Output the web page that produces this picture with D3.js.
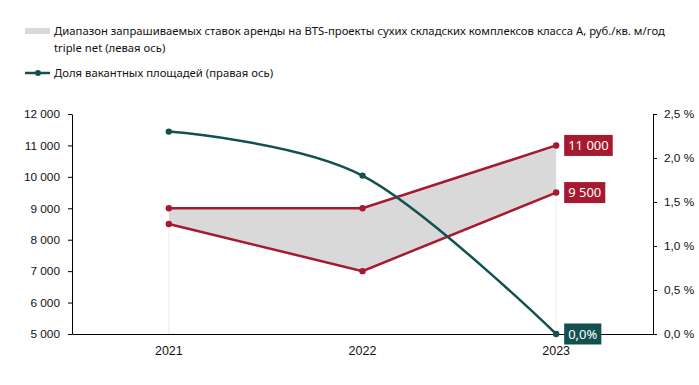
<!DOCTYPE html>
<html>
<head>
<meta charset="utf-8">
<script src="https://cdn.jsdelivr.net/npm/d3@7"></script>
<style>
  body { margin: 0; background: #fff; }
  svg { display: block; font-family: "Noto Sans", "Open Sans", sans-serif; }
</style>
</head>
<body>
<div id="ChartDiv"></div>
<script>
const years = ["2021", "2022", "2023"];
const rentLow = [8500, 7000, 9500];
const rentHigh = [9000, 9000, 11000];
const vacancy = [2.3, 1.8, 0.0];
const leftTicks = [5000, 6000, 7000, 8000, 9000, 10000, 11000, 12000];
const rightTicks = [0, 0.5, 1.0, 1.5, 2.0, 2.5];

const RED = "#a6192e";
const TEAL = "#125150";
const GREY = "#d9d9d9";

const W = 699, H = 385;
const margin = {left: 72, right: 46, top: 114, bottom: 51};

const svg = d3.select("#ChartDiv").append("svg")
    .attr("width", W)
    .attr("height", H);

const x = d3.scaleBand().domain(years).range([margin.left, W - margin.right]);
const cx = d => x(d) + x.bandwidth() / 2;
const yL = d3.scaleLinear().domain([5000, 12000]).range([H - margin.bottom, margin.top]);
const yR = d3.scaleLinear().domain([0, 2.5]).range([H - margin.bottom, margin.top]);

const fmtNum = v => d3.format(",")(v).replace(/,/g, " ");
const fmtPct = v => d3.format(".1f")(v).replace(".", ",");

// legend
const lg = svg.append("g").style("font-size", "11.3px").attr("fill", "#111");
lg.append("rect").attr("x", 25).attr("y", 28).attr("width", 25).attr("height", 6).attr("fill", GREY);
lg.append("text").attr("x", 54).attr("y", 35)
    .text("Диапазон запрашиваемых ставок аренды на BTS-проекты сухих  складских комплексов класса А, руб./кв. м/год");
lg.append("text").attr("x", 54).attr("y", 52).text("triple net (левая ось)");
lg.append("line").attr("x1", 25).attr("x2", 50).attr("y1", 73).attr("y2", 73)
    .attr("stroke", TEAL).attr("stroke-width", 2.5);
lg.append("circle").attr("cx", 38).attr("cy", 73).attr("r", 3).attr("fill", TEAL);
lg.append("text").attr("x", 54).attr("y", 77).text("Доля вакантных площадей (правая ось)");

// faint drop lines at edges of the area
const rows = years.map((y, i) => ({year: y, lo: rentLow[i], hi: rentHigh[i], vac: vacancy[i]}));
svg.selectAll(".drop").data([rows[0], rows[rows.length - 1]]).join("line")
    .attr("x1", d => cx(d.year)).attr("x2", d => cx(d.year))
    .attr("y1", d => yL(d.lo)).attr("y2", yL(5000))
    .attr("stroke", "#ececec").attr("stroke-width", 1);

// range area
svg.append("path").datum(rows)
    .attr("fill", GREY)
    .attr("d", d3.area().x(d => cx(d.year)).y0(d => yL(d.lo)).y1(d => yL(d.hi)));

// axes
const axL = svg.append("g").attr("transform", `translate(${margin.left},0)`)
    .call(d3.axisLeft(yL).tickValues(leftTicks).tickSize(4).tickSizeOuter(0).tickPadding(8).tickFormat(fmtNum));
const axR = svg.append("g").attr("transform", `translate(${W - margin.right},0)`)
    .call(d3.axisRight(yR).tickValues(rightTicks).tickSize(4).tickSizeOuter(0).tickPadding(7).tickFormat(v => fmtPct(v) + " %"));
const axB = svg.append("g").attr("transform", `translate(0,${H - margin.bottom})`)
    .call(d3.axisBottom(x).tickSize(0).tickPadding(12));
[axL, axR, axB].forEach(a => {
    a.select(".domain").attr("stroke", "#000");
    a.selectAll("line").attr("stroke", "#000");
    a.selectAll("text").style("font-size", "11.8px").attr("fill", "#111").style("font-family", "inherit");
});
axB.selectAll("text").style("font-size", "12.5px");

// rent lines
[rentHigh, rentLow].forEach(series => {
    svg.append("path").datum(series)
        .attr("fill", "none").attr("stroke", RED).attr("stroke-width", 2.5)
        .attr("d", d3.line().x((d, i) => cx(years[i])).y(d => yL(d)));
    svg.append("g").selectAll("circle").data(series).join("circle")
        .attr("cx", (d, i) => cx(years[i])).attr("cy", d => yL(d)).attr("r", 3.2).attr("fill", RED);
});

// vacancy line
svg.append("path").datum(vacancy)
    .attr("fill", "none").attr("stroke", TEAL).attr("stroke-width", 2.5)
    .attr("d", d3.line().curve(d3.curveCatmullRom.alpha(0)).x((d, i) => cx(years[i])).y(d => yR(d)));
svg.append("g").selectAll("circle").data(vacancy).join("circle")
    .attr("cx", (d, i) => cx(years[i])).attr("cy", d => yR(d)).attr("r", 3.2).attr("fill", TEAL);

// data labels for last year
const last = years.length - 1;
const labels = [
    {text: fmtNum(rentHigh[last]), y: yL(rentHigh[last]), fill: RED},
    {text: fmtNum(rentLow[last]), y: yL(rentLow[last]), fill: RED},
    {text: fmtPct(vacancy[last]) + "%", y: yR(vacancy[last]), fill: TEAL}
];
labels.forEach(l => {
    const g = svg.append("g").attr("transform", `translate(${cx(years[last]) + 8},${l.y})`);
    const t = g.append("text").attr("x", 4).attr("y", 4.5)
        .style("font-size", "13px").attr("fill", "#fff").text(l.text);
    const bw = t.node().getComputedTextLength() + 8;
    g.insert("rect", "text").attr("x", 0).attr("y", -10.5).attr("width", bw).attr("height", 21).attr("fill", l.fill);
});
</script>
</body>
</html>
